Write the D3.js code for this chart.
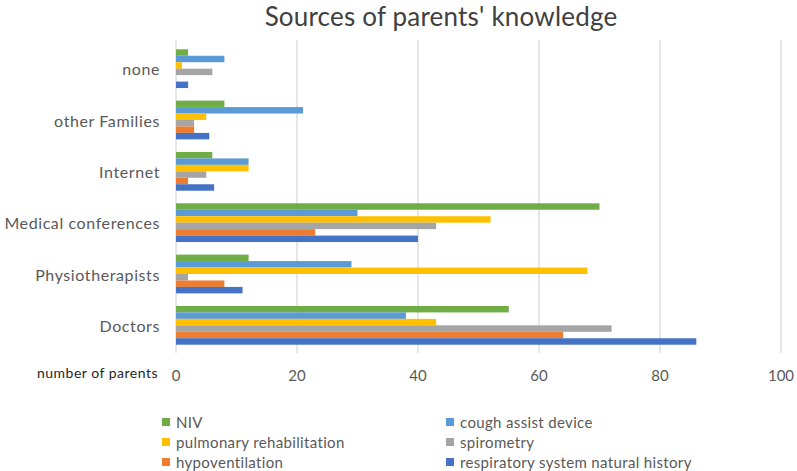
<!DOCTYPE html>
<html>
<head>
<meta charset="utf-8">
<script src="https://cdn.jsdelivr.net/npm/d3@7.9.0/dist/d3.min.js"></script>
<style>
  html, body { margin: 0; padding: 0; background: #fff; }
  svg { display: block; font-family: Lato, "Open Sans", sans-serif; }
</style>
</head>
<body>
<svg id="chart" width="797" height="471"></svg>
<script>
// categories, top to bottom
const sources = ['none', 'other Families', 'Internet', 'Medical conferences', 'Physiotherapists', 'Doctors'];
// series, in the order the bars appear inside each group
const seriesNames = ['NIV', 'cough assist device', 'pulmonary rehabilitation', 'spirometry', 'hypoventilation', 'respiratory system natural history'];
const seriesColors = ['#70AD47', '#5B9BD5', '#FFC000', '#A5A5A5', '#ED7D31', '#4472C4'];

const niv         = [2, 8, 6, 70, 12, 55];
const coughAssist = [8, 21, 12, 30, 29, 38];
const pulmRehab   = [1, 5, 12, 52, 68, 43];
const spirometry  = [6, 3, 5, 43, 2, 72];
const hypovent    = [0, 3, 2, 23, 8, 64];
const respHistory = [2, 5.5, 6.3, 40, 11, 86];
const seriesValues = [niv, coughAssist, pulmRehab, spirometry, hypovent, respHistory];

const xTicks = [0, 20, 40, 60, 80, 100];

const svg = d3.select('#chart');
const textColor = '#595959';

const x = d3.scaleLinear().domain([0, 100]).range([176, 781]);
const y = d3.scaleBand().domain(sources).range([43, 351])
  .paddingInner(0.245).paddingOuter(0.1225);
const ySub = d3.scaleBand().domain(seriesNames).range([0, y.bandwidth()]);

// gridlines
svg.append('g')
  .selectAll('line')
  .data(xTicks)
  .join('line')
  .attr('x1', d => x(d)).attr('x2', d => x(d))
  .attr('y1', 40).attr('y2', 353)
  .attr('stroke', '#D9D9D9')
  .attr('stroke-width', 1.3);

// bars
const groups = svg.append('g')
  .selectAll('g')
  .data(sources)
  .join('g')
  .attr('transform', d => `translate(0,${y(d)})`);

groups.selectAll('rect')
  .data((d, i) => seriesNames.map((s, k) => ({ series: s, k, value: seriesValues[k][i] })))
  .join('rect')
  .attr('x', x(0))
  .attr('y', d => ySub(d.series))
  .attr('width', d => x(d.value) - x(0))
  .attr('height', ySub.bandwidth())
  .attr('fill', d => seriesColors[d.k]);

// y labels
svg.append('g')
  .selectAll('text')
  .data(sources)
  .join('text')
  .attr('x', 160)
  .attr('y', d => y(d) + y.bandwidth() / 2)
  .attr('text-anchor', 'end')
  .attr('dominant-baseline', 'central')
  .attr('font-size', 16)
  .attr('letter-spacing', 0.6)
  .attr('fill', textColor)
  .text(d => d);

// x tick labels
svg.append('g')
  .selectAll('text')
  .data(xTicks)
  .join('text')
  .attr('x', d => x(d))
  .attr('y', 375)
  .attr('text-anchor', 'middle')
  .attr('dominant-baseline', 'central')
  .attr('font-size', 15)
  .attr('fill', textColor)
  .text(d => d);

svg.append('text')
  .attr('x', 158)
  .attr('y', 372)
  .attr('text-anchor', 'end')
  .attr('dominant-baseline', 'central')
  .attr('font-size', 14)
  .attr('letter-spacing', 0.5)
  .attr('fill', '#262626')
  .text('number of parents');

// title
svg.append('text')
  .attr('x', 441)
  .attr('y', 26)
  .attr('text-anchor', 'middle')
  .attr('font-size', 26)
  .attr('letter-spacing', 0.2)
  .attr('fill', '#404040')
  .text("Sources of parents' knowledge");

// legend, two columns
const legendCols = [162, 446];
const legend = svg.append('g')
  .selectAll('g')
  .data(seriesNames)
  .join('g')
  .attr('transform', (d, i) => `translate(${legendCols[i % 2]},${422 + Math.floor(i / 2) * 20})`);

legend.append('rect')
  .attr('x', 0).attr('y', -4)
  .attr('width', 8).attr('height', 8)
  .attr('fill', (d, i) => seriesColors[i]);

legend.append('text')
  .attr('x', 14)
  .attr('y', 0)
  .attr('dominant-baseline', 'central')
  .attr('font-size', 15)
  .attr('letter-spacing', 0.35)
  .attr('fill', textColor)
  .text(d => d);
</script>
</body>
</html>
